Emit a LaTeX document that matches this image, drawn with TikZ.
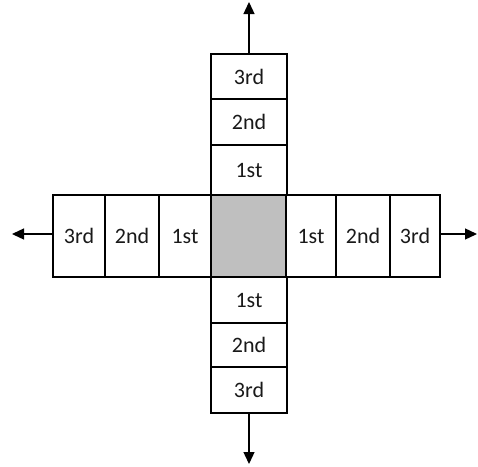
\documentclass[tikz,border=0pt]{standalone}
\usepackage{fontspec}
\setmainfont{Carlito}
\usetikzlibrary{arrows.meta}
\begin{document}
\begin{tikzpicture}[x=1pt,y=-1pt,
  cell/.style={draw=black, line width=1.3pt, fill=white, inner sep=0pt, outer sep=0pt,
    font=\fontsize{22}{26}\selectfont, text=black!90},
  hub/.style={cell, fill=black!25},
  arr/.style={line width=1.3pt, -{Triangle[length=12pt,width=11pt]}}]
\useasboundingbox (0,0) rectangle (478,466);
% centre square
\node[hub, minimum width=76pt, minimum height=82pt] (c) at (249,236) {};
% upward column
\node[cell, minimum width=76pt, minimum height=50pt] (t1) at (249,170) {1st};
\node[cell, minimum width=76pt, minimum height=46pt] (t2) at (249,122) {2nd};
\node[cell, minimum width=76pt, minimum height=45pt] (t3) at (249,76.5) {3rd};
% downward column
\node[cell, minimum width=76pt, minimum height=46pt] (b1) at (249,300) {1st};
\node[cell, minimum width=76pt, minimum height=44pt] (b2) at (249,345) {2nd};
\node[cell, minimum width=76pt, minimum height=46pt] (b3) at (249,390) {3rd};
% left row
\node[cell, minimum width=52pt, minimum height=82pt] (l1) at (185,236) {1st};
\node[cell, minimum width=54pt, minimum height=82pt] (l2) at (132,236) {2nd};
\node[cell, minimum width=52pt, minimum height=82pt] (l3) at (79,236) {3rd};
% right row
\node[cell, minimum width=50pt, minimum height=82pt] (r1) at (311,236) {1st};
\node[cell, minimum width=54pt, minimum height=82pt] (r2) at (363,236) {2nd};
\node[cell, minimum width=50pt, minimum height=82pt] (r3) at (415,236) {3rd};
% outward arrows
\coordinate (up) at (249,2);
\coordinate (down) at (249,464);
\coordinate (left) at (12,234);
\coordinate (right) at (477,234);
\draw[arr] (t3.north) -- (up);
\draw[arr] (b3.south) -- (down);
\draw[arr] (l3.west |- left) -- (left);
\draw[arr] (r3.east |- right) -- (right);
\end{tikzpicture}
\end{document}
